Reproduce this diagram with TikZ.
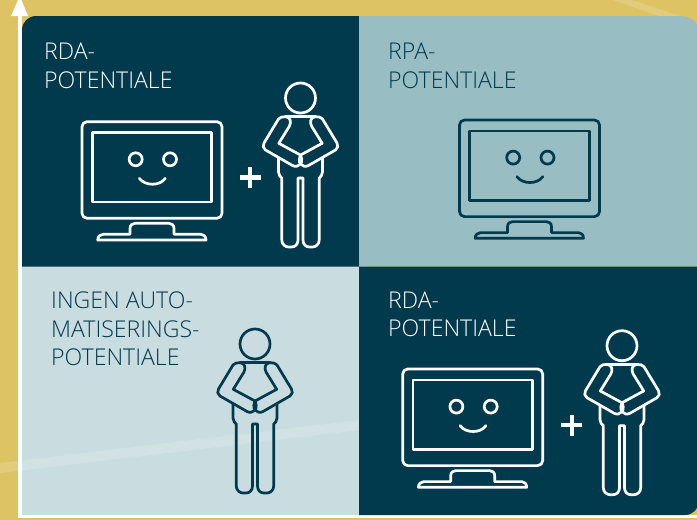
\documentclass[tikz,border=0pt]{standalone}
\usepackage{fontspec}
\setmainfont{Open Sans Light}
\definecolor{darkc}{HTML}{01394D}
\definecolor{midc}{HTML}{98BDC3}
\definecolor{lightc}{HTML}{C9DDE1}
\definecolor{yellowc}{HTML}{DDC363}
\tikzset{
  icon/.style={line width=2.7pt,line join=round,line cap=round},
  labeltext/.style={inner sep=0pt,anchor=base west,align=left,font=\fontsize{23.1}{28.6}\selectfont},
  band/.style={fill=white,fill opacity=.16},
  pics/monitor/.style={code={
    \draw[icon,rounded corners=5pt] (0,0) rectangle (140,96.6);
    \draw[icon] (10.3,11) rectangle (129.7,80.3);
    \draw[icon] (53.7,37.6) circle[radius=6.5pt] (88,37.6) circle[radius=6.5pt];
    \draw[icon] (57.3,56.6) .. controls (63,64.5) and (78,64.5) .. (83.3,56.6);
    \draw[icon] (15.7,118.3) -- (124,118.3) .. controls (124,115) and (122,112.6) .. (119,112.6) -- (92,112.6)
      -- (92,107) .. controls (92,103.5) and (90,101.6) .. (87,101.6) -- (53,101.6)
      .. controls (50,101.6) and (48,103.5) .. (48,107) -- (48,112.6) -- (21,112.6)
      .. controls (18,112.6) and (15.7,115) .. (15.7,118.3) -- cycle;
  }},
  pics/person/.style={code={
    \draw[icon] (0,0) circle[radius=15pt];
    \draw[icon] (-15,18.7) -- (15,18.7);
    \foreach \s in {1,-1}{
      \begin{scope}[xscale=\s]
        \draw[icon] (-21.7,45.3) -- (-1,56.5) .. controls (1.5,58) and (2,64) .. (0,66)
          .. controls (-2,68.5) and (-5,69) .. (-8,67.5) -- (-35,52)
          .. controls (-37.5,50.5) and (-38,47.5) .. (-36.5,45) -- (-22,21)
          .. controls (-20.5,19) and (-18,18.7) .. (-15,18.7)
          .. controls (-10,19) and (-9,24) .. (-11,28) -- cycle;
        \draw[icon] (-22,60) -- (-22,74) .. controls (-22,77) and (-20,79) .. (-18.7,80)
          -- (-18.7,142) .. controls (-18.7,146.5) and (-15,149) .. (-12,149) -- (-9,149)
          .. controls (-5.5,149) and (-2.5,146.5) .. (-2.5,142) -- (-2.5,80) -- (0,80);
      \end{scope}
    }
  }},
  pics/plussign/.style={code={
    \draw[line width=4.4pt] (-10.5,0) -- (10.5,0) (0,-10.5) -- (0,10.5);
  }}
}
\begin{document}
\begin{tikzpicture}[x=1pt,y=-1pt]
\useasboundingbox (0,0) rectangle (697,520);
\begin{scope}
\clip (0,0) rectangle (697,520);
\fill[yellowc] (0,0) rectangle (697,520);
\fill[band] (613,0) -- (632,0) -- (680,16) -- (659,16) -- cycle;
\fill[lightc] (22,266) rectangle (360,515);
\fill[band] (0,463) -- (360,420) -- (360,430) -- (0,473) -- cycle;
\fill[white] (18,16) rectangle (22,518);
\fill[white] (18,515) rectangle (697,518);
\fill[white] (11,16) -- (19.8,-4) -- (28,16) -- cycle;
\fill[darkc] (22,266.5) [rounded corners=14pt] -- (22,16) [sharp corners] -- (359,16) -- (359,266.5) -- cycle;
\fill[midc] (359,16) [rounded corners=22pt] -- (702,16) [sharp corners] -- (702,266.5) -- (359,266.5) -- cycle;
\fill[darkc] (359,266.5) -- (702,266.5) [rounded corners=14pt] -- (699,266.5) -- (699,515) [sharp corners] -- (359,515) -- cycle;
\end{scope}
\node[labeltext,text=white] (l1) at (44,88.3) {RDA-\\POTENTIALE};
\node[labeltext,text=darkc] (l2) at (388,88.3) {RPA-\\POTENTIALE};
\node[labeltext,text=darkc] (l3) at (51,365.7) {INGEN AUTO-\\MATISERINGS-\\POTENTIALE};
\node[labeltext,text=white] (l4) at (388,336.7) {RDA-\\POTENTIALE};
\pic[color=white] at (82,121.7) {monitor};
\pic[color=white] at (300.5,98) {person};
\pic[color=white] at (250,177.5) {plussign};
\pic[color=darkc] at (459.5,120) {monitor};
\pic[color=darkc] at (255,344) {person};
\pic[color=white] at (402.7,369) {monitor};
\pic[color=white] at (622,345.7) {person};
\pic[color=white] at (571.7,425) {plussign};
\end{tikzpicture}
\end{document}
